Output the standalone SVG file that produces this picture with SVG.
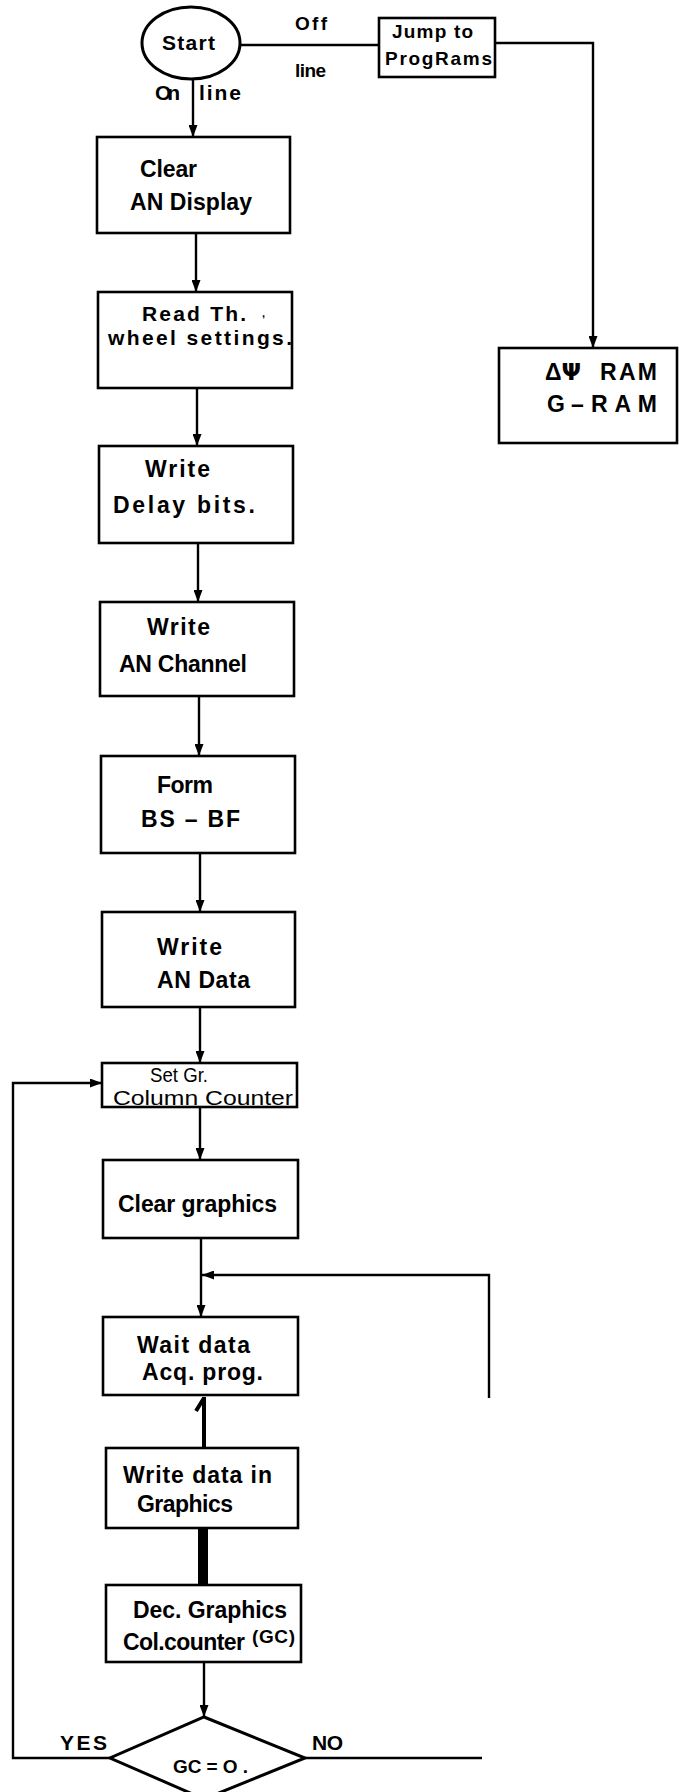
<svg xmlns="http://www.w3.org/2000/svg" width="679" height="1792" viewBox="0 0 679 1792">
  <style>
    .box { fill: #fff; stroke: #000; stroke-width: 2.6; }
    .ln { fill: none; stroke: #000; stroke-width: 2.4; }
    .arr { fill: none; stroke: #000; stroke-width: 2.4; marker-end: url(#head); }
    text { font-family: "Liberation Sans", Arial, sans-serif; font-weight: bold; fill: #000; }
    .t { font-size: 23px; }
    .s { font-size: 19px; }
    .n { font-size: 20px; font-weight: normal; }
  </style>
  <defs>
    <marker id="head" viewBox="0 0 12 9" refX="12" refY="4.5" markerWidth="12" markerHeight="9" markerUnits="userSpaceOnUse" orient="auto">
      <path d="M0,0 L12,4.5 L0,9 Z" fill="#000"/>
    </marker>
  </defs>

  <!-- connectors -->
  <g id="connectors">
    <path class="arr" d="M193,80 V137"/>
    <path class="ln" d="M240,45 H379"/>
    <path class="arr" d="M495,43 H593 V348"/>
    <path class="arr" d="M196,233 V292"/>
    <path class="arr" d="M197,388 V446"/>
    <path class="arr" d="M198,543 V602"/>
    <path class="arr" d="M199,696 V756"/>
    <path class="arr" d="M200,853 V912"/>
    <path class="arr" d="M200,1007 V1063"/>
    <path class="arr" d="M200,1107 V1160"/>
    <path class="arr" d="M201,1238 V1317"/>
    <path class="arr" d="M489,1398 V1275 H202"/>
    <path class="ln" style="stroke-width:4" d="M204,1448 V1397 M196,1411 L204,1398"/>
    <rect x="198" y="1528" width="10" height="57" fill="#000"/>
    <path class="arr" d="M204,1662 V1717"/>
    <path class="arr" d="M110,1758 H13 V1083 H102"/>
    <path class="ln" d="M305,1758 H482"/>
    <text class="s" x="295" y="30" textLength="32">Off</text>
    <text class="s" x="295" y="77" textLength="31">line</text>
    <text class="s" style="font-size:21px" x="155" y="100" textLength="25">On</text>
    <text class="s" style="font-size:21px" x="199" y="100" textLength="42">line</text>
    <text class="s" style="font-size:21px" x="60" y="1750" textLength="47">YES</text>
    <text class="s" style="font-size:21px" x="312" y="1750" textLength="31">NO</text>
  </g>

  <g id="start">
    <ellipse cx="191" cy="43" rx="49" ry="36" fill="#fff" stroke="#000" stroke-width="3"/>
    <text class="s" style="font-size:21px" x="162" y="50" textLength="53">Start</text>
  </g>

  <g id="jump">
    <rect class="box" x="379" y="18" width="116" height="59"/>
    <text class="s" x="392" y="38" textLength="81">Jump to</text>
    <text class="s" x="385" y="65" textLength="107">ProgRams</text>
  </g>

  <g id="ram">
    <rect class="box" x="499" y="348" width="178" height="95"/>
    <text class="t" x="545" y="380">Δ<tspan font-family="DejaVu Sans, sans-serif">Ψ</tspan></text>
    <text class="t" x="600" y="380" textLength="57">RAM</text>
    <text class="t" x="547" y="412">G</text>
    <text class="t" x="571" y="412">–</text>
    <text class="t" x="591" y="412" textLength="66">RAM</text>
  </g>

  <g id="clear-an">
    <rect class="box" x="97" y="137" width="193" height="96"/>
    <text class="t" x="140" y="177" textLength="57">Clear</text>
    <text class="t" x="130" y="210" textLength="122">AN Display</text>
  </g>

  <g id="read-wheel">
    <rect class="box" x="98" y="292" width="194" height="96"/>
    <text class="t" style="font-size:21px" x="142" y="321" textLength="104">Read Th.</text>
    <text class="t" x="262" y="317" style="font-size:11px">,</text>
    <text class="t" style="font-size:21px" x="108" y="345" textLength="184">wheel  settings.</text>
  </g>

  <g id="write-delay">
    <rect class="box" x="99" y="446" width="194" height="97"/>
    <text class="t" x="145" y="477" textLength="65">Write</text>
    <text class="t" x="113" y="513" textLength="142">Delay   bits.</text>
  </g>

  <g id="write-channel">
    <rect class="box" x="100" y="602" width="194" height="94"/>
    <text class="t" x="147" y="635" textLength="63">Write</text>
    <text class="t" x="119" y="672" textLength="128">AN Channel</text>
  </g>

  <g id="form-bs">
    <rect class="box" x="101" y="756" width="194" height="97"/>
    <text class="t" x="157" y="793" textLength="56">Form</text>
    <text class="t" x="141" y="827" textLength="99">BS – BF</text>
  </g>

  <g id="write-data">
    <rect class="box" x="102" y="912" width="193" height="95"/>
    <text class="t" x="157" y="955" textLength="65">Write</text>
    <text class="t" x="157" y="988" textLength="93">AN Data</text>
  </g>

  <g id="set-counter">
    <rect class="box" x="102" y="1063" width="195" height="44"/>
    <text class="n" x="150" y="1082" textLength="58" lengthAdjust="spacingAndGlyphs">Set  Gr.</text>
    <text class="n" x="113" y="1105" textLength="180" lengthAdjust="spacingAndGlyphs">Column Counter</text>
  </g>

  <g id="clear-graphics">
    <rect class="box" x="103" y="1160" width="195" height="78"/>
    <text class="t" x="118" y="1212" textLength="159">Clear graphics</text>
  </g>

  <g id="wait-acq">
    <rect class="box" x="103" y="1317" width="195" height="78"/>
    <text class="t" x="137" y="1353" textLength="113">Wait  data</text>
    <text class="t" x="142" y="1380" textLength="121">Acq. prog.</text>
  </g>

  <g id="write-graphics">
    <rect class="box" x="106" y="1448" width="192" height="80"/>
    <text class="t" x="123" y="1483" textLength="149">Write data in</text>
    <text class="t" x="137" y="1512" textLength="96">Graphics</text>
  </g>

  <g id="dec-counter">
    <rect class="box" x="106" y="1585" width="195" height="77"/>
    <text class="t" x="133" y="1618" textLength="154">Dec. Graphics</text>
    <text class="t" x="123" y="1650" textLength="122">Col.counter</text>
    <text class="s" x="252" y="1643" textLength="43">(GC)</text>
  </g>

  <g id="gc-zero">
    <polygon points="204,1717 305,1758 204,1799 110,1758" fill="#fff" stroke="#000" stroke-width="3"/>
    <text class="s" x="173" y="1773" textLength="75">GC = O .</text>
  </g>
</svg>
